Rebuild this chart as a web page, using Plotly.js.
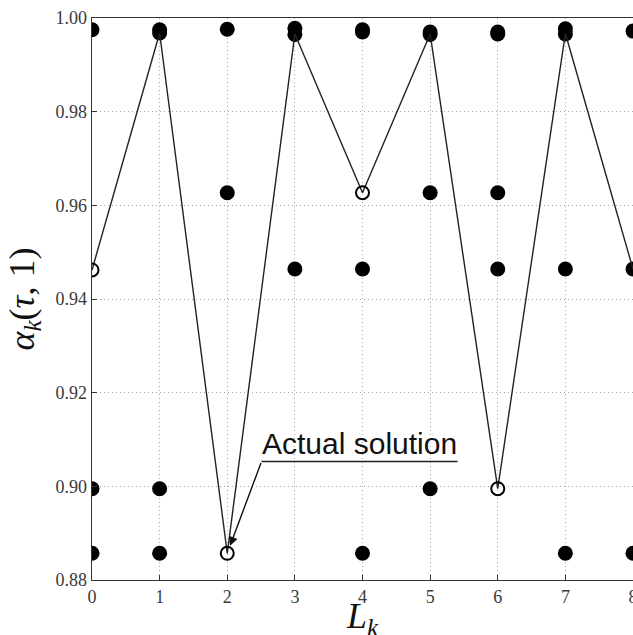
<!DOCTYPE html>
<html>
<head>
<meta charset="utf-8">
<script src="https://cdn.plot.ly/plotly-3.0.1.min.js"></script>
<style>
  html, body { margin: 0; padding: 0; background: #fff; }
  #chart { width: 633px; height: 635px; }
</style>
</head>
<body>
<div id="chart"></div>
<script>
// candidate values for each L_k (filled dots)
const dotX = [0, 0, 0, 1, 1, 1, 1, 2, 2, 3, 3, 3, 4, 4, 4, 4, 5, 5, 5, 5, 6, 6, 6, 6, 7, 7, 7, 7, 8, 8, 8];
const dotY = [0.9975, 0.8995, 0.8857,
              0.9975, 0.9968, 0.8995, 0.8857,
              0.9976, 0.9627,
              0.9978, 0.9965, 0.9464,
              0.9975, 0.9970, 0.9464, 0.8857,
              0.9970, 0.9965, 0.9627, 0.8995,
              0.9970, 0.9966, 0.9627, 0.9464,
              0.9977, 0.9966, 0.9464, 0.8857,
              0.9972, 0.9464, 0.8857];

// path through the chosen values
const pathX = [0, 1, 2, 3, 4, 5, 6, 7, 8];
const pathY = [0.9462, 0.9968, 0.8857, 0.9966, 0.9627, 0.9966, 0.8995, 0.9967, 0.9464];
const openIdx = [0, 2, 4, 6];

const yTicks = [0.88, 0.90, 0.92, 0.94, 0.96, 0.98, 1.00];
const xTicks = [0, 1, 2, 3, 4, 5, 6, 7, 8];

// annotation anchor (underline start/end, in data units)
const noteX0 = 2.507, noteX1 = 5.406, noteY = 0.9053;

const serif = "Liberation Serif";

function axis(extra) {
  return Object.assign({
    showgrid: true,
    gridcolor: "#a8a8a8",
    griddash: "1px,3px",
    gridwidth: 1,
    zeroline: false,
    showline: true,
    linecolor: "#333",
    linewidth: 1.3,
    ticks: "inside",
    ticklen: 5,
    tickcolor: "#333",
    tickfont: { family: serif, size: 18, color: "#3a3a3a" },
    ticklabeloverflow: "allow",
  }, extra);
}

const traces = [
  {
    x: dotX, y: dotY, type: "scatter", mode: "markers",
    marker: { color: "#000", size: 15, symbol: "circle" },
    hoverinfo: "skip", showlegend: false,
  },
  {
    x: pathX, y: pathY, type: "scatter", mode: "lines",
    line: { color: "#222", width: 1.4 },
    hoverinfo: "skip", showlegend: false,
  },
  {
    x: openIdx.map(i => pathX[i]), y: openIdx.map(i => pathY[i]),
    type: "scatter", mode: "markers",
    marker: { color: "#000", size: 13, symbol: "circle-open", line: { width: 2, color: "#000" } },
    hoverinfo: "skip", showlegend: false,
  },
];

const layout = {
  width: 633, height: 635,
  margin: { l: 92, r: 0, t: 18, b: 55 },
  font: { family: serif, color: "#333" },
  paper_bgcolor: "#fff", plot_bgcolor: "#fff",
  xaxis: axis({ range: [0, 8], tickvals: xTicks, mirror: true }),
  yaxis: axis({ range: [0.88, 1.0], tickvals: yTicks, tickformat: ".2f" }),
  shapes: [
    { type: "line", xref: "x", yref: "y", x0: noteX0, x1: noteX1, y0: noteY, y1: noteY,
      line: { color: "#222", width: 1.4 } },
  ],
  annotations: [
    {
      x: pathX[2], y: pathY[2], xref: "x", yref: "y",
      ax: noteX0, ay: noteY, axref: "x", ayref: "y",
      showarrow: true, arrowhead: 2, arrowsize: 1.3, arrowwidth: 1.4, arrowcolor: "#111",
      standoff: 8, text: "",
    },
    {
      x: noteX0, y: noteY, xref: "x", yref: "y",
      xanchor: "left", yanchor: "bottom", showarrow: false,
      text: "Actual solution", xshift: -2,
      font: { family: "Liberation Sans", size: 30, color: "#111" },
    },
    // axis titles
    {
      x: 0.5, y: 0, xref: "paper", yref: "paper", xanchor: "center", yanchor: "top",
      yshift: -14, showarrow: false,
      text: "<i>L</i><sub><i>k</i></sub>",
      font: { family: serif, size: 36, color: "#111" },
    },
    {
      x: 0, y: 0.5, xref: "paper", yref: "paper", xanchor: "right", yanchor: "middle",
      xshift: -44, showarrow: false, textangle: -90,
      text: "<i>α</i><sub><i>k</i></sub>(<i>τ</i>, 1)",
      font: { family: serif, size: 36, color: "#111" },
    },
  ],
};

Plotly.newPlot("chart", traces, layout, { displayModeBar: false, staticPlot: true });
</script>
</body>
</html>
